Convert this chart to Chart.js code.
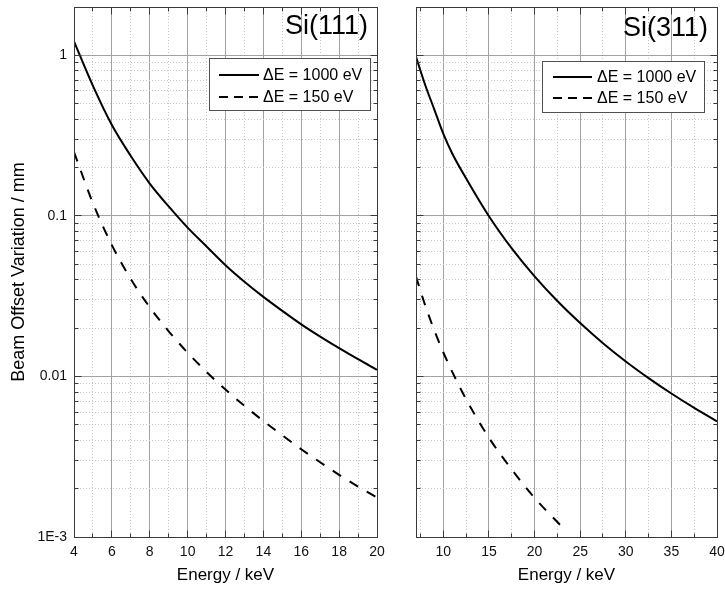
<!DOCTYPE html>
<html>
<head>
<meta charset="utf-8">
<title>Beam offset variation</title>
<script src="https://cdn.jsdelivr.net/npm/chart.js@4.4.0/dist/chart.umd.min.js"></script>
<style>
  html, body { margin: 0; padding: 0; background: #fff; }
  #wrap { position: relative; width: 725px; height: 591px; }
  canvas { position: absolute; top: 0; }
  #left { left: 0; }
  #right { left: 396px; }
</style>
</head>
<body>
<div id="wrap">
  <canvas id="left" width="395" height="591"></canvas>
  <canvas id="right" width="329" height="591"></canvas>
</div>
<script>
// Si(111) crystal, energy in keV, offset variation in mm
const si111Energy = [4, 5, 6, 7, 8, 9, 10, 11, 12, 13, 14, 15, 16, 17, 18, 19, 20];
const si111Wide = [1.22, 0.645, 0.368, 0.236, 0.159, 0.1146, 0.0845, 0.0645, 0.0493, 0.0389, 0.0313, 0.0256, 0.0211, 0.0177, 0.0150, 0.0128, 0.0110];
const si111Narrow = [0.250, 0.120, 0.0658, 0.0404, 0.0270, 0.0191, 0.01406, 0.01067, 0.00828, 0.00656, 0.00528, 0.00430, 0.00352, 0.00292, 0.00244, 0.00206, 0.00176];

// Si(311) crystal
const si311Energy = [7, 8, 9, 10, 11, 12.5, 15, 17.5, 20, 22.5, 25, 27.5, 30, 32.5, 35, 37.5, 40];
const si311Wide = [0.979, 0.656, 0.461, 0.324, 0.243, 0.171, 0.0995, 0.0627, 0.0420, 0.0295, 0.0215, 0.0161, 0.0124, 0.00977, 0.00783, 0.00637, 0.00525];
const si311NarrowEnergy = [7, 8, 9, 10, 11, 12.5, 15, 17.5, 20, 22.5, 23.25];
const si311Narrow = [0.0419, 0.0278, 0.0194, 0.0141, 0.0106, 0.00720, 0.00415, 0.00263, 0.00175, 0.00124, 0.00112];

const seriesLabels = ['\u0394E = 1000 eV', '\u0394E = 150 eV'];

// axis ticks
const si111MajorX = [4, 6, 8, 10, 12, 14, 16, 18, 20];
const si111MinorX = [5, 7, 9, 11, 13, 15, 17, 19];
const si311MajorX = [10, 15, 20, 25, 30, 35, 40];
const si311MinorX = [7.5, 12.5, 17.5, 22.5, 27.5, 32.5, 37.5];
const yMajor = [0.001, 0.01, 0.1, 1];
const yMajorLabels = ['1E-3', '0.01', '0.1', '1'];
const yMin = 0.001, yMax = 2;

const FONT = '"Liberation Sans", Arial, Helvetica, sans-serif';
const GRID_MAJOR = '#a2a2a2';
const GRID_MINOR = '#c6c6c6';
const FRAME = '#3a3a3a';
const CURVE_DASH = [10, 10];
const LEGEND_DASH = [9, 6];

const yMinor = [];
yMajor.forEach(d => {
  for (let m = 2; m <= 9; m++) if (d * m <= yMax + 1e-9) yMinor.push(+(d * m).toPrecision(3));
});

function tickList(major, minor) {
  return major.map(v => ({ value: v, major: true }))
    .concat(minor.map(v => ({ value: v, major: false })))
    .sort((a, b) => a.value - b.value);
}

function pairs(xs, ys) {
  return xs.map((x, i) => ({ x: x, y: ys[i] }));
}

const isMajor = c => !!(c.tick && c.tick.major);

const gridOpts = {
  drawTicks: false,
  lineWidth: 1,
  color: c => isMajor(c) ? GRID_MAJOR : GRID_MINOR
};
const borderOpts = {
  display: false,
  dash: c => isMajor(c) ? [] : [1, 2]
};

function alignPx(p) {
  return Math.round(p - 0.5) + 0.5;
}

// scales must not push the plot area around for their end labels
function noEdgePadding(s) {
  s.paddingLeft = 0;
  s.paddingRight = 0;
  s.paddingTop = 0;
  s.paddingBottom = 0;
}

// box frame with inward ticks on all four sides
const framePlugin = {
  id: 'frame',
  afterDatasetsDraw(chart) {
    const { ctx, chartArea: a, scales } = chart;
    const x = scales.x, y = scales.y;
    const L = alignPx(a.left), R = alignPx(a.right), T = alignPx(a.top), B = alignPx(a.bottom);
    ctx.save();
    ctx.strokeStyle = FRAME;
    ctx.lineWidth = 1;
    ctx.setLineDash([]);
    ctx.beginPath();
    x.ticks.forEach(t => {
      const px = alignPx(x.getPixelForValue(t.value));
      const len = t.major ? 7 : 4;
      ctx.moveTo(px, B); ctx.lineTo(px, B - len);
      ctx.moveTo(px, T); ctx.lineTo(px, T + len);
    });
    y.ticks.forEach(t => {
      const py = alignPx(y.getPixelForValue(t.value));
      const len = t.major ? 7 : 4;
      ctx.moveTo(L, py); ctx.lineTo(L + len, py);
      ctx.moveTo(R, py); ctx.lineTo(R - len, py);
    });
    ctx.stroke();
    ctx.strokeRect(L, T, R - L, B - T);
    ctx.restore();
  }
};

// legend drawn inside the plot, upper right, with a white box
const boxLegendPlugin = {
  id: 'boxLegend',
  afterDraw(chart, args, o) {
    const { ctx, chartArea: a } = chart;
    const right = Math.round(a.right - o.inset);
    const top = Math.round(a.top + o.top);
    const left = right - o.width;
    ctx.save();
    ctx.fillStyle = '#fff';
    ctx.fillRect(left, top, o.width, o.height);
    ctx.strokeStyle = '#505050';
    ctx.lineWidth = 1;
    ctx.strokeRect(left + 0.5, top + 0.5, o.width, o.height);
    ctx.font = '16px ' + FONT;
    ctx.textBaseline = 'middle';
    ctx.textAlign = 'left';
    chart.data.datasets.forEach((ds, i) => {
      const yy = top + o.rows[i];
      ctx.beginPath();
      ctx.setLineDash(ds.borderDash.length ? LEGEND_DASH : []);
      ctx.lineWidth = ds.borderWidth;
      ctx.strokeStyle = ds.borderColor;
      ctx.moveTo(left + o.lineFrom, yy);
      ctx.lineTo(left + o.lineTo, yy);
      ctx.stroke();
      ctx.setLineDash([]);
      ctx.fillStyle = '#000';
      ctx.fillText(ds.label, left + o.textAt, yy + 1);
    });
    ctx.restore();
  }
};

// crystal name in the top right corner of the plot
const cornerTitlePlugin = {
  id: 'cornerTitle',
  afterDraw(chart, args, o) {
    const { ctx, chartArea: a } = chart;
    ctx.save();
    ctx.font = '27px ' + FONT;
    ctx.fillStyle = '#000';
    ctx.textAlign = 'right';
    ctx.textBaseline = 'alphabetic';
    ctx.fillText(o.text, a.right - 9, a.top + o.baseline);
    ctx.restore();
  }
};

function lineSet(label, data, dashed) {
  return {
    label: label,
    data: data,
    borderColor: '#000',
    borderWidth: 2,
    borderDash: dashed ? CURVE_DASH : [],
    pointRadius: 0,
    fill: false,
    cubicInterpolationMode: 'monotone'
  };
}

function makeChart(id, cfg) {
  return new Chart(document.getElementById(id), {
    type: 'line',
    data: {
      datasets: [
        lineSet(seriesLabels[0], cfg.wide, false),
        lineSet(seriesLabels[1], cfg.narrow, true)
      ]
    },
    options: {
      responsive: false,
      animation: false,
      events: [],
      layout: { padding: { top: 7, right: cfg.padRight, bottom: 0, left: 0 } },
      scales: {
        x: {
          type: 'linear',
          min: cfg.xMin,
          max: cfg.xMax,
          afterBuildTicks: s => { s.ticks = tickList(cfg.majorX, cfg.minorX); },
          afterFit: s => { s.height = 54; noEdgePadding(s); },
          grid: gridOpts,
          border: borderOpts,
          ticks: {
            autoSkip: false,
            maxRotation: 0,
            padding: 7,
            color: '#111',
            font: { family: FONT, size: 14 },
            callback: v => cfg.majorX.includes(v) ? String(v) : ''
          },
          title: {
            display: true,
            text: 'Energy / keV',
            color: '#000',
            font: { family: FONT, size: 17 },
            padding: { top: 0, bottom: 5 }
          }
        },
        y: {
          type: 'logarithmic',
          min: yMin,
          max: yMax,
          afterBuildTicks: s => { s.ticks = tickList(yMajor, yMinor); },
          afterFit: s => { s.width = cfg.yWidth; noEdgePadding(s); },
          grid: gridOpts,
          border: borderOpts,
          ticks: {
            display: cfg.showY,
            autoSkip: false,
            padding: 7,
            color: '#111',
            font: { family: FONT, size: 14 },
            callback: v => {
              const i = yMajor.findIndex(m => Math.abs(m - v) / m < 1e-6);
              return i >= 0 ? yMajorLabels[i] : '';
            }
          },
          title: {
            display: cfg.showY,
            text: 'Beam Offset Variation / mm',
            color: '#000',
            font: { family: FONT, size: 18 },
            padding: { top: 8, bottom: 0 }
          }
        }
      },
      plugins: {
        legend: { display: false },
        tooltip: { enabled: false },
        boxLegend: cfg.legend,
        cornerTitle: { text: cfg.title, baseline: cfg.titleBaseline }
      }
    },
    plugins: [framePlugin, boxLegendPlugin, cornerTitlePlugin]
  });
}

makeChart('left', {
  title: 'Si(111)',
  titleBaseline: 27,
  wide: pairs(si111Energy, si111Wide),
  narrow: pairs(si111Energy, si111Narrow),
  xMin: 4, xMax: 20,
  majorX: si111MajorX, minorX: si111MinorX,
  padRight: 18, yWidth: 74, showY: true,
  legend: { inset: 7, top: 51, width: 161, height: 52, rows: [17, 39], lineFrom: 10, lineTo: 50, textAt: 54 }
});

makeChart('right', {
  title: 'Si(311)',
  titleBaseline: 29,
  wide: pairs(si311Energy, si311Wide),
  narrow: pairs(si311NarrowEnergy, si311Narrow),
  xMin: 7, xMax: 40,
  majorX: si311MajorX, minorX: si311MinorX,
  padRight: 8, yWidth: 20, showY: false,
  legend: { inset: 13, top: 54, width: 162, height: 51, rows: [16, 37], lineFrom: 11, lineTo: 50, textAt: 55 }
});
</script>
</body>
</html>
